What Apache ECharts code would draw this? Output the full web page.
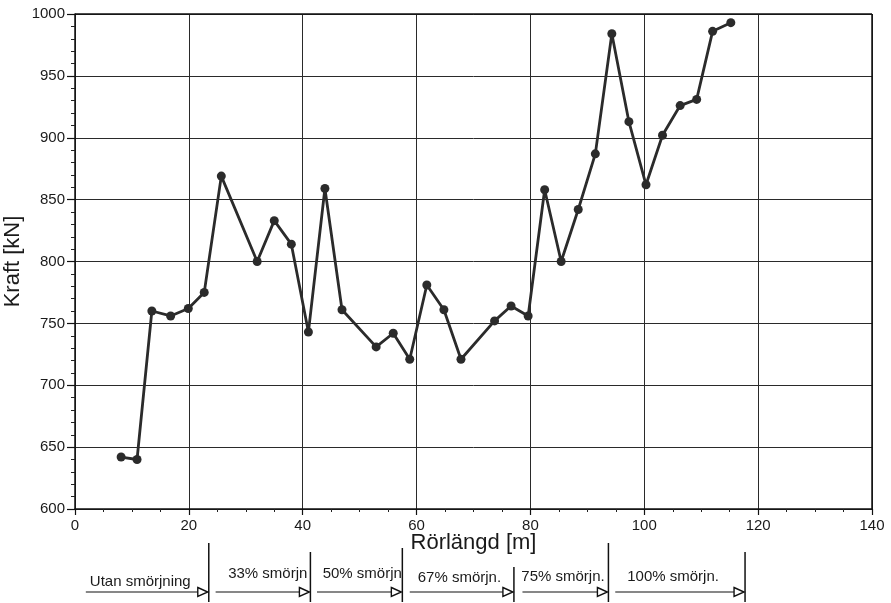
<!DOCTYPE html>
<html>
<head>
<meta charset="utf-8">
<script src="https://cdn.jsdelivr.net/npm/echarts@6/dist/echarts.min.js"></script>
<style>
html,body{margin:0;padding:0;background:#fff;}
#c{width:891px;height:603px;}
</style>
</head>
<body>
<div id="c"></div>
<script>
// ---- data ----
const lengthM = [8.1, 10.9, 13.5, 16.8, 19.9, 22.7, 25.7, 32.0, 35.0, 38.0, 41.0, 43.9, 46.9, 52.9, 55.9, 58.8, 61.8, 64.8, 67.8, 73.7, 76.6, 79.6, 82.5, 85.4, 88.4, 91.4, 94.3, 97.3, 100.3, 103.2, 106.3, 109.2, 112.0, 115.2];
const forceKN = [642, 640, 760, 756, 762, 775, 869, 800, 833, 814, 743, 859, 761, 731, 742, 721, 781, 761, 721, 752, 764, 756, 858, 800, 842, 887, 984, 913, 862, 902, 926, 931, 986, 993];
const segmentLabels = ['Utan smörjning', '33% smörjn', '50% smörjn', '67% smörjn.', '75% smörjn.', '100% smörjn.'];
const segmentStarts = [1.9, 24.7, 42.5, 58.8, 78.6, 94.9];
const segmentEnds = [23.5, 41.35, 57.5, 77.1, 93.7, 117.7];
const labelLeft = [2.6, 26.9, 43.5, 60.2, 78.4, 97.0];
const xTicks = {min: 0, max: 140, interval: 20};
const yTicks = {min: 600, max: 1000, interval: 50};

const FONT = '"Liberation Sans", Arial, Helvetica, sans-serif';
const chart = echarts.init(document.getElementById('c'), null, {renderer: 'canvas'});

chart.setOption({
  backgroundColor: '#ffffff',
  animation: false,
  grid: {left: 75, right: 19, top: 14, bottom: 94, containLabel: false, outerBoundsMode: 'none'},
  xAxis: {
    type: 'value', min: xTicks.min, max: xTicks.max, interval: xTicks.interval,
    name: 'Rörlängd [m]', nameLocation: 'middle', nameGap: 23, nameMoveOverlap: false,
    nameTextStyle: {fontFamily: FONT, fontSize: 22, color: '#1a1a1a'},
    axisLine: {show: true, onZero: false, lineStyle: {color: '#111', width: 1.5}},
    axisTick: {show: true, length: 6, lineStyle: {color: '#111', width: 1.2}},
    minorTick: {show: true, splitNumber: 4, length: 3, lineStyle: {color: '#222', width: 1}},
    axisLabel: {fontFamily: FONT, fontSize: 15, color: '#1a1a1a', margin: 9, formatter: v => String(v)},
    splitLine: {show: true, lineStyle: {color: '#2a2a2a', width: 1}}
  },
  yAxis: {
    type: 'value', min: yTicks.min, max: yTicks.max, interval: yTicks.interval,
    name: 'Kraft [kN]', nameLocation: 'middle', nameGap: 51, nameRotate: 90, nameMoveOverlap: false,
    nameTextStyle: {fontFamily: FONT, fontSize: 22, color: '#1a1a1a'},
    axisLine: {show: true, onZero: false, lineStyle: {color: '#111', width: 1.5}},
    axisTick: {show: true, length: 8, lineStyle: {color: '#111', width: 1.2}},
    minorTick: {show: true, splitNumber: 5, length: 4, lineStyle: {color: '#222', width: 1}},
    axisLabel: {fontFamily: FONT, fontSize: 15, color: '#1a1a1a', margin: 10, formatter: v => String(v)},
    splitLine: {show: true, lineStyle: {color: '#2a2a2a', width: 1}}
  },
  series: [{
    type: 'line',
    data: lengthM.map((x, i) => [x, forceKN[i]]),
    symbol: 'circle', symbolSize: 9,
    lineStyle: {color: '#2b2b2b', width: 2.8},
    itemStyle: {color: '#2b2b2b'},
    z: 5
  }],
  graphic: []
});

// build bottom annotation via axis scale
const px = v => chart.convertToPixel({xAxisIndex: 0}, v);
const vTop = [543, 552, 548, 567, 543, 552];
const textY = [582, 574, 574, 578, 577, 577];
const arrowY = 592;
const g = [];
// plot frame (top & right)
const x0 = px(xTicks.min), x1 = px(xTicks.max);
const yTop = chart.convertToPixel({yAxisIndex: 0}, yTicks.max);
const yBot = chart.convertToPixel({yAxisIndex: 0}, yTicks.min);
g.push({type: 'line', shape: {x1: x0, y1: yTop, x2: x1, y2: yTop}, style: {stroke: '#111', lineWidth: 1.5}, z: 10});
g.push({type: 'line', shape: {x1: x1, y1: yTop, x2: x1, y2: yBot}, style: {stroke: '#111', lineWidth: 1.5}, z: 10});
segmentLabels.forEach((lab, i) => {
  const xe = px(segmentEnds[i]);
  const xs = px(segmentStarts[i]);
  g.push({type: 'line', shape: {x1: xe, y1: vTop[i], x2: xe, y2: 602}, style: {stroke: '#111', lineWidth: 1.5}, z: 10});
  g.push({type: 'line', shape: {x1: xs, y1: arrowY, x2: xe - 10, y2: arrowY}, style: {stroke: '#111', lineWidth: 1.2}, z: 10});
  g.push({type: 'polygon', shape: {points: [[xe - 11, arrowY - 4.5], [xe - 1, arrowY], [xe - 11, arrowY + 4.5]]}, style: {fill: '#fff', stroke: '#111', lineWidth: 1.4}, z: 11});
  g.push({type: 'text', x: px(labelLeft[i]), y: textY[i], style: {text: lab, font: '15px ' + FONT, fill: '#1a1a1a', textVerticalAlign: 'middle', verticalAlign: 'middle'}, z: 10});
});
chart.setOption({graphic: g});
</script>
</body>
</html>
